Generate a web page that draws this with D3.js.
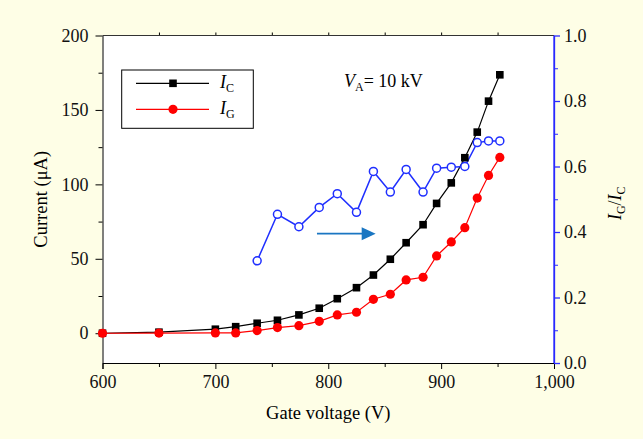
<!DOCTYPE html>
<html>
<head>
<meta charset="utf-8">
<script src="https://cdn.jsdelivr.net/npm/d3@7"></script>
<style>
  body { margin: 0; background: #fefee6; }
  svg { display: block; font-family: "Liberation Serif", "Times New Roman", serif; }
</style>
</head>
<body>
<svg id="chart" width="643" height="439"></svg>
<script>
// gate voltage (V)
const voltage = [600, 650, 700, 718, 737, 755, 774, 792, 808, 825, 840, 855, 869, 884, 896, 909, 921, 932, 942, 952];
// collector current I_C (uA)
const currentC = [0, 0.7, 2.7, 4.4, 6.7, 8.7, 12.3, 16.8, 23.2, 30.6, 39.1, 49.7, 60.8, 72.9, 87.2, 101, 117.9, 135.1, 155.9, 173.6];
// gate current I_G (uA)
const currentG = [0, 0.1, 0.2, 0.2, 1.8, 3.8, 5.1, 8, 12.3, 14.1, 22.8, 26.2, 35.8, 37.6, 51.9, 61.3, 70.9, 90.8, 106, 118.1];
// ratio I_G/I_C (right axis), starts at 737 V
const ratioV = [737, 755, 774, 792, 808, 825, 840, 855, 869, 884, 896, 909, 921, 932, 942, 952];
const ratio = [0.312, 0.454, 0.416, 0.475, 0.517, 0.460, 0.585, 0.522, 0.591, 0.522, 0.595, 0.598, 0.600, 0.673, 0.678, 0.678];

const xTicks = [600, 700, 800, 900, 1000];
const yTicks = [0, 50, 100, 150, 200];
const rTicks = [0, 0.2, 0.4, 0.6, 0.8, 1.0];

const svg = d3.select("#chart");
const pLeft = 102.5, pRight = 554, pTop = 35.5, pBottom = 363;
const fs = 18;

const x = d3.scaleLinear().domain([600, 1000]).range([pLeft, pRight]);
const y = d3.scaleLinear().domain([-20, 200]).range([pBottom, pTop]);
const yr = d3.scaleLinear().domain([0, 1]).range([pBottom, pTop]);

svg.append("rect")
    .attr("x", pLeft).attr("y", pTop)
    .attr("width", pRight - pLeft).attr("height", pBottom - pTop)
    .attr("fill", "white");

// minor ticks
svg.append("g").attr("transform", `translate(0,${pBottom})`)
    .call(d3.axisBottom(x).tickValues(d3.range(650, 1000, 100)).tickSize(4).tickFormat(""))
    .call(g => g.select(".domain").remove());
svg.append("g").attr("transform", `translate(0,${pTop})`)
    .call(d3.axisTop(x).tickValues(d3.range(650, 1000, 50)).tickSize(3).tickFormat(""))
    .call(g => g.select(".domain").remove());
svg.append("g").attr("transform", `translate(${pLeft},0)`)
    .call(d3.axisLeft(y).tickValues([25, 75, 125, 175]).tickSize(4).tickFormat(""))
    .call(g => g.select(".domain").remove());
svg.append("g").attr("transform", `translate(${pRight},0)`)
    .call(d3.axisRight(yr).tickValues([0.1, 0.3, 0.5, 0.7, 0.9]).tickSize(4).tickFormat(""))
    .call(g => g.select(".domain").remove())
    .call(g => g.selectAll("line").attr("stroke", "#2a2aff"));

// main axes
const xAxis = svg.append("g").attr("transform", `translate(0,${pBottom})`)
    .call(d3.axisBottom(x).tickValues(xTicks).tickSize(6).tickPadding(6).tickFormat(d3.format(",")));
const yAxis = svg.append("g").attr("transform", `translate(${pLeft},0)`)
    .call(d3.axisLeft(y).tickValues(yTicks).tickSize(7).tickPadding(7).tickSizeOuter(0));
const rAxis = svg.append("g").attr("transform", `translate(${pRight},0)`)
    .call(d3.axisRight(yr).tickValues(rTicks).tickSize(6).tickPadding(4).tickFormat(d3.format(".1f")).tickSizeOuter(0));
rAxis.selectAll("line, .domain").attr("stroke", "#2a2aff").attr("stroke-width", 1.3);

[xAxis, yAxis, rAxis].forEach(a => a.selectAll("text")
    .attr("font-family", "Liberation Serif, serif").attr("font-size", fs).attr("fill", "#111"));

svg.append("line").attr("x1", pLeft).attr("x2", pRight).attr("y1", pTop).attr("y2", pTop)
    .attr("stroke", "#333");
// re-draw right axis line above top border
svg.append("line").attr("x1", pRight).attr("x2", pRight).attr("y1", pTop).attr("y2", pBottom)
    .attr("stroke", "#2a2aff").attr("stroke-width", 1.3);

// axis titles
svg.append("text")
    .attr("transform", `translate(47,${(pTop + pBottom) / 2}) rotate(-90)`)
    .attr("text-anchor", "middle").attr("font-size", 18.5)
    .text("Current (μA)");
svg.append("text")
    .attr("x", (pLeft + pRight) / 2).attr("y", 419)
    .attr("text-anchor", "middle").attr("font-size", 18.5)
    .text("Gate voltage (V)");
const rt = svg.append("text")
    .attr("transform", `translate(621,${(pTop + pBottom) / 2 + 4}) rotate(-90)`)
    .attr("text-anchor", "middle").attr("font-size", fs);
rt.append("tspan").attr("font-style", "italic").text("I");
rt.append("tspan").attr("font-size", 12).attr("dy", 4).text("G");
rt.append("tspan").attr("dy", -4).text("/");
rt.append("tspan").attr("font-style", "italic").text("I");
rt.append("tspan").attr("font-size", 12).attr("dy", 4).text("C");

// lines
const lineC = d3.line().x((d, i) => x(voltage[i])).y(d => y(d));
const lineR = d3.line().x((d, i) => x(ratioV[i])).y(d => yr(d));

svg.append("path").datum(currentC).attr("d", lineC)
    .attr("fill", "none").attr("stroke", "black").attr("stroke-width", 1.2);
svg.append("path").datum(currentG).attr("d", lineC)
    .attr("fill", "none").attr("stroke", "#ff0000").attr("stroke-width", 1.2);
svg.append("path").datum(ratio).attr("d", lineR)
    .attr("fill", "none").attr("stroke", "#1f2fff").attr("stroke-width", 1.5);

svg.append("g").selectAll("rect").data(currentC).join("rect")
    .attr("x", (d, i) => x(voltage[i]) - 3.8).attr("y", d => y(d) - 3.8)
    .attr("width", 7.6).attr("height", 7.6).attr("fill", "black");
svg.append("g").selectAll("circle").data(currentG).join("circle")
    .attr("cx", (d, i) => x(voltage[i])).attr("cy", d => y(d))
    .attr("r", 4.6).attr("fill", "#ff0000");
svg.append("g").selectAll("circle").data(ratio).join("circle")
    .attr("cx", (d, i) => x(ratioV[i])).attr("cy", d => yr(d))
    .attr("r", 4).attr("fill", "white").attr("stroke", "#1f2fff").attr("stroke-width", 1.5);

// arrow pointing to right axis
const ax1 = x(790), ax2 = x(842), ay = yr(0.395);
svg.append("line").attr("x1", ax1).attr("x2", ax2 - 12).attr("y1", ay).attr("y2", ay)
    .attr("stroke", "#1a76c2").attr("stroke-width", 1.6);
svg.append("path")
    .attr("d", `M${ax2 - 14},${ay - 6.5}L${ax2},${ay}L${ax2 - 14},${ay + 6.5}Z`)
    .attr("fill", "#1a76c2");

// V_A label
const va = svg.append("text").attr("x", 344).attr("y", 87).attr("font-size", fs);
va.append("tspan").attr("font-style", "italic").text("V");
va.append("tspan").attr("font-size", 12).attr("dy", 4).text("A");
va.append("tspan").attr("dy", -4).text("= 10 kV");

// legend
svg.append("rect").attr("x", 121.7).attr("y", 70).attr("width", 131.6).attr("height", 58.3)
    .attr("fill", "white").attr("stroke", "black").attr("stroke-width", 1);
const legend = [
  { label: "C", color: "black", y: 83.3, shape: "square" },
  { label: "G", color: "#ff0000", y: 109.3, shape: "circle" }
];
legend.forEach(l => {
  svg.append("line").attr("x1", 136).attr("x2", 209).attr("y1", l.y).attr("y2", l.y)
      .attr("stroke", l.color).attr("stroke-width", 1.2);
  if (l.shape === "square") {
    svg.append("rect").attr("x", 173 - 3.8).attr("y", l.y - 3.8).attr("width", 7.6).attr("height", 7.6).attr("fill", l.color);
  } else {
    svg.append("circle").attr("cx", 173).attr("cy", l.y).attr("r", 4.6).attr("fill", l.color);
  }
  const t = svg.append("text").attr("x", 220).attr("y", l.y + 5).attr("font-size", fs);
  t.append("tspan").attr("font-style", "italic").text("I");
  t.append("tspan").attr("font-size", 12).attr("dy", 4).text(l.label);
});
</script>
</body>
</html>
